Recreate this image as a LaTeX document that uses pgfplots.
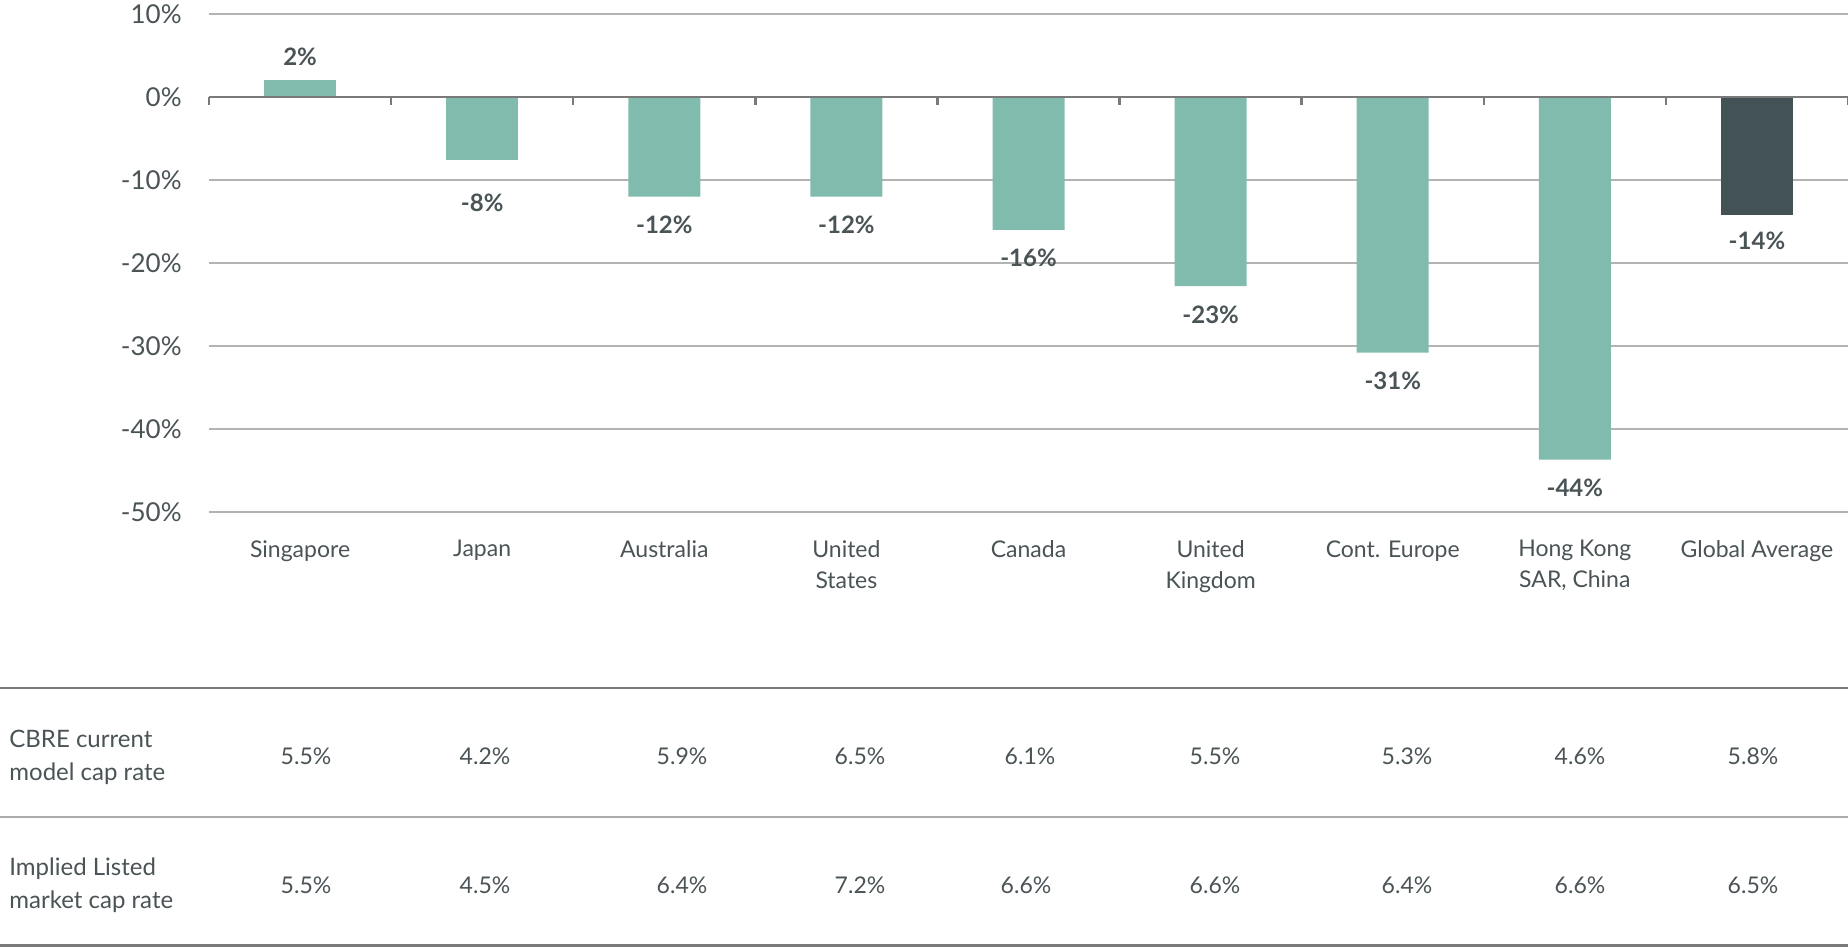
\documentclass[border=0pt]{standalone}
\usepackage{pgfplots}
\pgfplotsset{compat=1.18}
\usepackage{fontspec}
\setmainfont{Lato}

\definecolor{barteal}{HTML}{80BBAD}
\definecolor{bardark}{HTML}{435254}
\definecolor{txt}{HTML}{4A5356}
\definecolor{gridc}{HTML}{B3B3B3}
\definecolor{axisc}{HTML}{7A7A7A}
\definecolor{rulec}{HTML}{ABABAB}

\begin{document}
\begin{tikzpicture}
\useasboundingbox (0,0) rectangle (924pt,-473.5pt);
\begin{axis}[
    at={(104.5pt,-7pt)}, anchor=north west,
    scale only axis, width=819.5pt, height=249pt,
    xmin=-0.5, xmax=8.5, ymin=-50, ymax=10,
    ybar, bar width=36pt,
    axis line style={draw=none},
    major tick length=0pt,
    ytick={-50,-40,...,10},
    yticklabels={-50\%,-40\%,-30\%,-20\%,-10\%,0\%,10\%},
    ymajorgrids, grid style={gridc, line width=1pt},
    xtick={0,...,8},
    xticklabels={Singapore, Japan, Australia, United\\States, Canada,
        United\\Kingdom, Cont. Europe, {Hong Kong\\SAR, China}, Global Average},
    xticklabel style={align=center, anchor=north, inner sep=0pt, yshift=-14pt,
        font=\fontsize{11.5}{15.5}\selectfont, text=txt},
    yticklabel style={anchor=east, inner sep=0pt, xshift=-13.5pt,
        font=\fontsize{13}{15}\selectfont, text=txt},
    nodes near coords, point meta=explicit symbolic,
    clip=false,
]
% positive gap
\addplot[fill=barteal, draw=none, bar shift=0pt,
    nodes near coords style={anchor=south, font=\bfseries\fontsize{12}{14}\selectfont,
        text=txt, inner sep=0pt, yshift=6.5pt}] coordinates {
    (0,2.1)[2\%]
};
% Japan: label sits below the -10% gridline
\addplot[fill=barteal, draw=none, bar shift=0pt,
    nodes near coords style={anchor=north, font=\bfseries\fontsize{12}{14}\selectfont,
        text=txt, inner sep=0pt, yshift=-16.5pt}] coordinates {
    (1,-7.6)[-8\%]
};
% other negative gaps
\addplot[fill=barteal, draw=none, bar shift=0pt,
    nodes near coords style={anchor=north, font=\bfseries\fontsize{12}{14}\selectfont,
        text=txt, inner sep=0pt, yshift=-9.5pt}] coordinates {
    (2,-12.0)[-12\%] (3,-12.0)[-12\%]
    (4,-16.0)[-16\%] (5,-22.8)[-23\%] (6,-30.8)[-31\%] (7,-43.7)[-44\%]
};
% global average
\addplot[fill=bardark, draw=none, bar shift=0pt,
    nodes near coords style={anchor=north, font=\bfseries\fontsize{12}{14}\selectfont,
        text=txt, inner sep=0pt, yshift=-8.5pt}] coordinates {
    (8,-14.2)[-14\%]
};
% zero line with category ticks
\draw[axisc, line width=1.3pt] (axis cs:-0.5,0) -- (axis cs:8.5,0);
\pgfplotsinvokeforeach{-0.5,0.5,1.5,2.5,3.5,4.5,5.5,6.5,7.5,8.5}{
    \draw[axisc, line width=1.2pt] (axis cs:#1,0) -- ([yshift=-4pt]axis cs:#1,0);
}
\end{axis}

% table under the chart
\draw[axisc, line width=1.2pt] (0,-344pt) -- (924pt,-344pt);
\draw[rulec, line width=1.2pt] (0,-408.5pt) -- (924pt,-408.5pt);
\draw[axisc, line width=1.2pt] (0,-472.75pt) -- (924pt,-472.75pt);

\begin{scope}[every node/.style={inner sep=0pt, text=txt, font=\fontsize{12}{14}\selectfont}]
\node[anchor=base west] at (4.5pt,-373.5pt) {CBRE current};
\node[anchor=base west] at (4.5pt,-390pt) {model cap rate};
\node[anchor=base west] at (4.5pt,-437.5pt) {Implied Listed};
\node[anchor=base west] at (4.5pt,-454pt) {market cap rate};
\end{scope}

\begin{scope}[every node/.style={inner sep=0pt, anchor=base, text=txt, font=\fontsize{11.5}{14}\selectfont}]
\foreach \x/\v in {153/5.5, 242.5/4.2, 341/5.9, 430/6.5, 515/6.1,
                   607.5/5.5, 703.5/5.3, 790/4.6, 876.5/5.8}
    \node at (\x pt,-382pt) {\v\%};
\foreach \x/\v in {153/5.5, 242.5/4.5, 341/6.4, 430/7.2, 513/6.6,
                   607.5/6.6, 703.5/6.4, 790/6.6, 876.5/6.5}
    \node at (\x pt,-446.5pt) {\v\%};
\end{scope}
\end{tikzpicture}
\end{document}
